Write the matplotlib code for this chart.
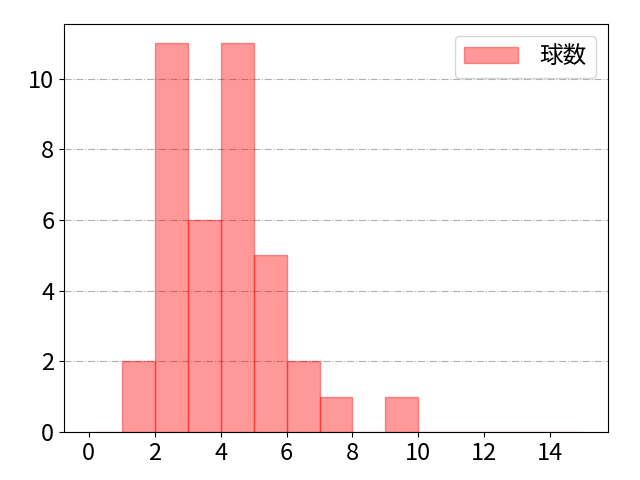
import matplotlib
matplotlib.use('Agg')
import matplotlib.pyplot as plt

plt.rcParams['font.family'] = ['Noto Sans CJK JP', 'DejaVu Sans']
plt.rcParams['font.size'] = 17

# 球数の度数 (bin 0-1, 1-2, ..., 14-15)
bin_edges = list(range(0, 16))
counts = [0, 2, 11, 6, 11, 5, 2, 1, 0, 1, 0, 0, 0, 0, 0]
bin_left = bin_edges[:-1]

fig, ax = plt.subplots(figsize=(6.4, 4.8), dpi=100)
ax.hist(bin_left, bins=bin_edges, weights=counts, color='red', alpha=0.4,
        edgecolor='red', label='球数')
ax.grid(axis='y', linestyle='-.')
ax.set_axisbelow(True)
ax.set_xticks(range(0, 16, 2))
ax.legend(loc='upper right', handlelength=2.3, handletextpad=0.9)
fig.subplots_adjust(left=0.10, right=0.95, top=0.95, bottom=0.10)
fig.savefig('out.png')
